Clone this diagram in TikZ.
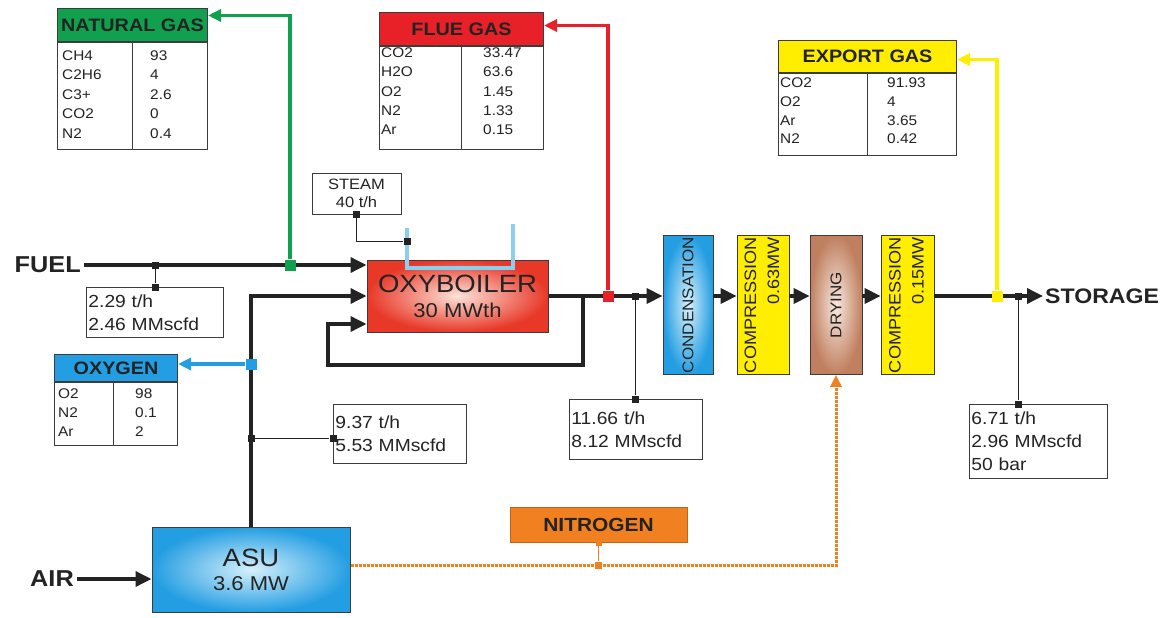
\documentclass[tikz,border=0pt]{standalone}
\usepackage{fontspec}
\setmainfont[FakeStretch=1.1]{Liberation Sans}
\usetikzlibrary{arrows.meta,positioning}
\definecolor{gasgreen}{RGB}{16,160,78}
\definecolor{fluered}{RGB}{232,32,40}
\definecolor{expyellow}{RGB}{255,238,0}
\definecolor{oxblue}{RGB}{36,158,226}
\definecolor{oxlight}{RGB}{214,240,252}
\definecolor{nitroorange}{RGB}{240,128,32}
\definecolor{steamblue}{RGB}{140,206,240}
\definecolor{boilred}{RGB}{232,56,40}
\definecolor{boillight}{RGB}{252,226,216}
\definecolor{drybrown}{RGB}{192,128,96}
\definecolor{drylight}{RGB}{248,232,224}
\definecolor{edge}{RGB}{60,60,60}
\definecolor{ink}{RGB}{35,35,35}
\newcommand{\fsz}[2]{\fontsize{#1}{#2}\selectfont}

\begin{document}
\begin{tikzpicture}[x=1pt, y=-1pt,
    hdr/.style={draw=edge, line width=1pt, anchor=north west, inner sep=0pt, text=ink, font=\fsz{18}{20}\bfseries},
    tabbody/.style={draw=edge, line width=1pt, fill=white, inner sep=0pt},
    cell/.style={anchor=base west, inner sep=0pt, text=ink, font=\fsz{14}{16}},
    infobox/.style={draw=edge, line width=0.9pt, anchor=north west, align=left, inner xsep=2pt, inner ysep=0pt, text=ink, font=\fsz{17.5}{23}},
    proc/.style={draw=edge, line width=0.8pt, minimum height=139pt, inner sep=0pt, text=ink, font=\fsz{15.5}{22}},
    unit/.style={draw=edge, line width=1pt, align=center, text=ink},
    tag/.style={inner sep=3pt, text=ink, font=\fsz{23}{26}\bfseries},
    flow/.style={line width=3.5pt, draw=ink, -{Triangle[length=16pt,width=15pt]}},
    branch/.style={line width=3.5pt, -{Triangle[length=13pt,width=12pt]}},
    tap/.style={line width=1pt, draw=ink},
    dot/.style={fill=ink, minimum size=7pt, inner sep=0pt},
    sq/.style={minimum size=11pt, inner sep=0pt},
  ]
    \useasboundingbox[fill=white] (0,0) rectangle (1167,618);

    \node[hdr, fill=gasgreen, minimum width=150pt, minimum height=33pt] (nghdr) at (57,8) {NATURAL GAS};
    \node[tabbody, minimum width=150pt, minimum height=107pt, below=0pt of nghdr] (ngtab) {};
    \draw[edge, line width=1pt] ([xshift=75pt]ngtab.north west) -- ([xshift=75pt]ngtab.south west);
    \foreach \species/\share [count=\i] in {CH4/93, C2H6/4, C3+/2.6, CO2/0, N2/0.4} {
        \node[cell] (ngk\i) at (62, 41+19.4*\i) {\species};
        \node[cell] (ngv\i) at (150, 41+19.4*\i) {\share};
    }

    \node[hdr, fill=fluered, minimum width=164pt, minimum height=33pt] (fghdr) at (379,12) {FLUE GAS};
    \node[tabbody, minimum width=164pt, minimum height=103pt, below=0pt of fghdr] (fgtab) {};
    \draw[edge, line width=1pt] ([xshift=82pt]fgtab.north west) -- ([xshift=82pt]fgtab.south west);
    \foreach \species/\share [count=\i] in {CO2/33.47, H2O/63.6, O2/1.45, N2/1.33, Ar/0.15} {
        \node[cell] (fgk\i) at (381, 39+19*\i) {\species};
        \node[cell] (fgv\i) at (483, 39+19*\i) {\share};
    }

    \node[hdr, fill=expyellow, minimum width=178pt, minimum height=32pt] (eghdr) at (778,40) {EXPORT GAS};
    \node[tabbody, minimum width=178pt, minimum height=82pt, below=0pt of eghdr] (egtab) {};
    \draw[edge, line width=1pt] ([xshift=89pt]egtab.north west) -- ([xshift=89pt]egtab.south west);
    \foreach \species/\share [count=\i] in {CO2/91.93, O2/4, Ar/3.65, N2/0.42} {
        \node[cell] (egk\i) at (780, 69.5+18.5*\i) {\species};
        \node[cell] (egv\i) at (887, 69.5+18.5*\i) {\share};
    }

    \node[hdr, fill=oxblue, minimum width=123pt, minimum height=27pt] (oxhdr) at (54,354) {OXYGEN};
    \node[tabbody, minimum width=123pt, minimum height=63pt, below=0pt of oxhdr] (oxtab) {};
    \draw[edge, line width=1pt] ([xshift=59pt]oxtab.north west) -- ([xshift=59pt]oxtab.south west);
    \foreach \species/\share [count=\i] in {O2/98, N2/0.1, Ar/2} {
        \node[cell] (oxk\i) at (58, 379+19*\i) {\species};
        \node[cell] (oxv\i) at (135, 379+19*\i) {\share};
    }

    \node[unit, font=\fsz{25}{25}, shading=radial, inner color=boillight, outer color=boilred, minimum width=181pt, minimum height=72pt] (boiler) at (457.5,296) {OXYBOILER\\\fsz{20}{25}30 MWth};
    \node[unit, font=\fsz{25}{24}, shading=radial, inner color=oxlight, outer color=oxblue, minimum width=198pt, minimum height=85pt] (asu) at (251,569.5) {ASU\\\fsz{20}{24}3.6 MW};

    \node[proc, shading=radial, inner color=oxlight, outer color=oxblue, minimum width=50pt] (cond) at (688,305) {\rotatebox{90}{CONDENSATION}};
    \node[proc, font=\fsz{16.5}{23}, fill=expyellow, minimum width=52pt] (comp1) at (763,305) {\rotatebox{90}{\begin{tabular}{@{}r@{}}COMPRESSION\\0.63MW\end{tabular}}};
    \node[proc, shading=radial, inner color=drylight, outer color=drybrown, minimum width=52pt] (dry) at (836,305) {\rotatebox{90}{DRYING}};
    \node[proc, font=\fsz{16.5}{23}, fill=expyellow, minimum width=53pt] (comp2) at (907.5,305) {\rotatebox{90}{\begin{tabular}{@{}r@{}}COMPRESSION\\0.15MW\end{tabular}}};

    \node[tag, anchor=east] (fuel) at (84,265) {FUEL};
    \node[tag, anchor=east] (air) at (77,579) {AIR};
    \node[tag, anchor=west, inner sep=2pt, font=\fsz{21}{24}\bfseries] (store) at (1043,296) {STORAGE};

    \node[unit, font=\fsz{15}{18}, line width=0.9pt, minimum width=89pt, minimum height=41pt, inner sep=0pt] (steam) at (356.5,193.5) {STEAM\\40 t/h};
    \node[infobox, text width=133pt, minimum height=50pt] (fuelinfo) at (86,287) {2.29 t/h\\2.46 MMscfd};
    \node[infobox, text width=129pt, minimum height=59pt] (o2info) at (333,404) {9.37 t/h\\5.53 MMscfd};
    \node[infobox, text width=129pt, minimum height=60pt] (exinfo) at (569,399) {11.66 t/h\\8.12 MMscfd};
    \node[infobox, text width=134pt, minimum height=74pt] (stinfo) at (969,404) {6.71 t/h\\2.96 MMscfd\\50 bar};
    \node[draw=nitroorange!80!black, fill=nitroorange, line width=1pt, minimum width=177pt, minimum height=35pt, text=ink, font=\fsz{19}{21}\bfseries] (nitro) at (598.5,524.5) {NITROGEN};

    \draw[steamblue, line width=3.5pt] (407,228) -- (407,268) -- (513,268) -- (513,224);

    \draw[flow] (fuel.east) -- (fuel.east -| boiler.west);
    \draw[flow] (asu.north) |- (boiler.west);
    \draw[flow] (boiler.east) -- (cond.west |- boiler.east);
    \coordinate (rsplit) at (583,296);
    \coordinate (rloop) at (328,365);
    \draw[flow] (rsplit) |- (rloop) |- ([yshift=-28pt]boiler.west);
    \draw[flow] (cond.east |- boiler.east) -- (comp1.west |- boiler.east);
    \draw[flow] (comp1.east |- boiler.east) -- (dry.west |- boiler.east);
    \draw[flow] (dry.east |- boiler.east) -- (comp2.west |- boiler.east);
    \draw[flow] (comp2.east |- boiler.east) -- (store.west);
    \draw[flow] (air.east) -- (air.east -| asu.west);

    \coordinate (n2turn) at (836,565);
    \draw[nitroorange, line width=3pt, dash pattern=on 3pt off 1pt, -{Triangle[length=12pt,width=11pt]}] (asu.east |- n2turn) -| (dry.south);
    \node[fill=nitroorange, minimum size=6pt, inner sep=0pt] (na) at (nitro.south) {};
    \node[fill=nitroorange, minimum size=7pt, inner sep=0pt] (nb) at (nitro.south |- n2turn) {};
    \draw[nitroorange, line width=1pt] (na) -- (nb);

    \node[sq, fill=gasgreen] (ngsq) at (290,265) {};
    \draw[branch, gasgreen] (ngsq) |- ([yshift=9.5pt]nghdr.east);
    \node[sq, fill=fluered] (fgsq) at (608,296) {};
    \draw[branch, fluered] (fgsq) |- ([yshift=3.5pt]fghdr.east);
    \node[sq, fill=expyellow] (egsq) at (997,296) {};
    \draw[branch, expyellow] (egsq) |- ([yshift=-3pt]eghdr.east);
    \node[sq, fill=oxblue] (oxsq) at (251,364) {};
    \draw[branch, oxblue] (oxsq) -- (oxsq -| oxhdr.east);

    \node[dot] (fj) at (155,265) {};
    \node[dot] (fb) at (fj |- fuelinfo.north) {};
    \draw[tap] (fj) -- (fb);
    \node[dot] (oj) at (251,438) {};
    \node[dot] (ob) at (oj -| o2info.west) {};
    \draw[tap] (oj) -- (ob);
    \node[dot] (ej) at (635,296) {};
    \node[dot] (eb) at (ej |- exinfo.north) {};
    \draw[tap] (ej) -- (eb);
    \node[dot] (sj) at (1018,296) {};
    \node[dot] (sb) at (sj |- stinfo.north) {};
    \draw[tap] (sj) -- (sb);
    \node[dot] (stj) at (steam.south) {};
    \node[dot] (stp) at (407,241) {};
    \draw[tap] (stj) |- (stp);
\end{tikzpicture}
\end{document}
